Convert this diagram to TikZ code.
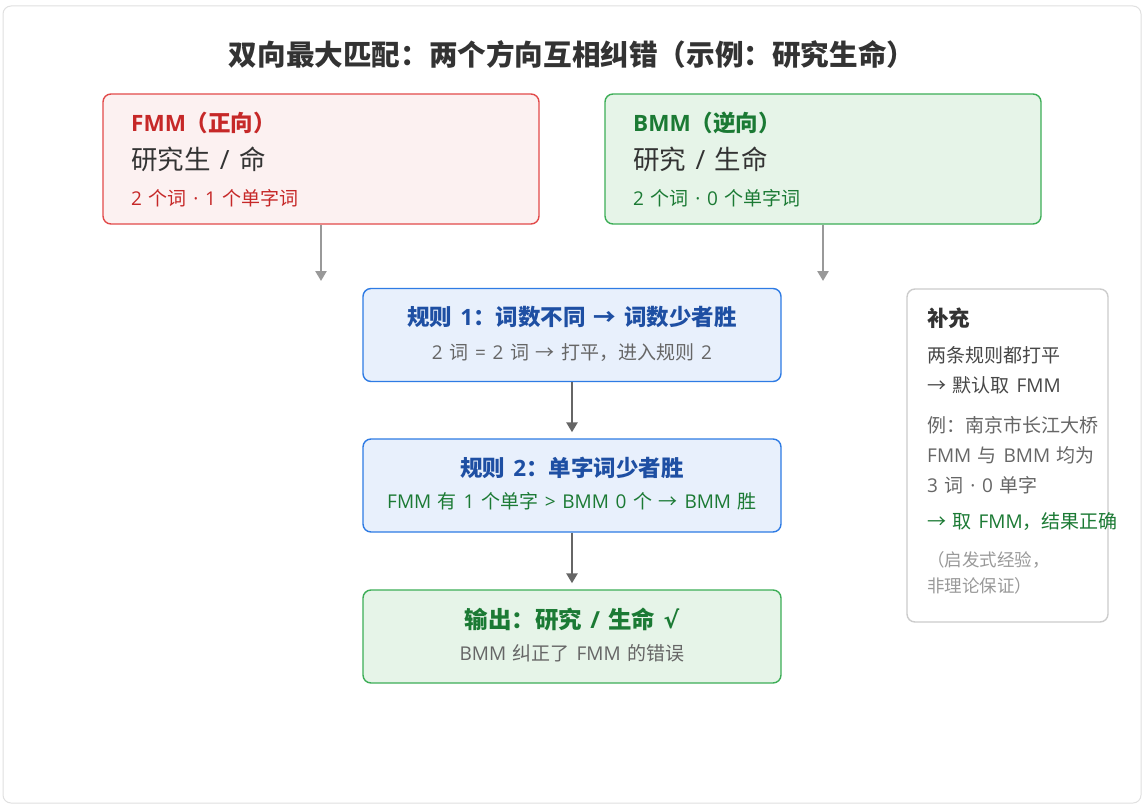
\documentclass[tikz,border=0pt]{standalone}
\usepackage{fontspec}
\setmainfont{Open Sans}[WordSpace=1.35]
\newfontfamily\cjkfont{Noto Sans CJK SC}
\newfontfamily\symfont{DejaVu Sans}
\usetikzlibrary{arrows.meta}

\XeTeXinterchartokenstate=1
\newXeTeXintercharclass\cjkclass
\newcount\cjkcode
\def\setcjkrange#1#2{\cjkcode=#1
  \loop\XeTeXcharclass\cjkcode=\cjkclass
  \ifnum\cjkcode<#2 \advance\cjkcode by 1 \repeat}
\setcjkrange{"2190}{"21FF}
\setcjkrange{"3000}{"303F}
\setcjkrange{"4E00}{"9FFF}
\setcjkrange{"FF00}{"FFEF}
\XeTeXinterchartoks 0 \cjkclass = {\begingroup\cjkfont}
\XeTeXinterchartoks 4095 \cjkclass = {\begingroup\cjkfont}
\XeTeXinterchartoks \cjkclass 0 = {\endgroup}
\XeTeXinterchartoks \cjkclass 4095 = {\endgroup}

\definecolor{fmmred}{HTML}{C62828}
\definecolor{fmmline}{HTML}{E24A4A}
\definecolor{fmmfill}{HTML}{FCF1F1}
\definecolor{bmmgreen}{HTML}{1B7A34}
\definecolor{bmmline}{HTML}{3DAE57}
\definecolor{bmmfill}{HTML}{E6F4E8}
\definecolor{ruleblue}{HTML}{1E4FA3}
\definecolor{ruleline}{HTML}{2E7BE4}
\definecolor{rulefill}{HTML}{E8F0FC}
\definecolor{txtdark}{HTML}{333333}
\definecolor{txtgray}{HTML}{666666}
\definecolor{txtlight}{HTML}{999999}

\begin{document}
\begin{tikzpicture}[x=1pt,y=-1pt,
  box/.style={draw,rounded corners=8pt,line width=1.4pt,inner sep=0pt},
  dirbox/.style={box,minimum width=436pt,minimum height=130pt},
  rulebox/.style={box,draw=ruleline,fill=rulefill,minimum width=418pt,minimum height=93pt},
  lbl/.style={inner sep=0pt,anchor=west},
  head/.style={inner sep=0pt,font=\fontsize{22.5}{27}\selectfont\bfseries},
  sub/.style={inner sep=0pt,font=\fontsize{19}{23}\selectfont},
  note/.style={lbl,font=\fontsize{19}{23}\selectfont,text=txtdark!90},
  grayarrow/.style={draw=txtlight,line width=2.5pt,-{Triangle[length=10pt,width=11pt]}},
  darkarrow/.style={draw=txtgray,line width=2.5pt,-{Triangle[length=10pt,width=11pt]},shorten >=6pt}]
  \useasboundingbox (0,0) rectangle (1145,808);
  \draw[draw=black!12,fill=white,rounded corners=8pt,line width=1pt] (3,6) rectangle (1141,803);

  \node[inner sep=0pt,font=\fontsize{28.6}{34}\selectfont\bfseries,text=txtdark] (title) at (572,54) {双向最大匹配：两个方向互相纠错（示例：研究生命）};

  \node[dirbox,draw=fmmline,fill=fmmfill] (fmm) at (321,159) {};
  \node[lbl,head,text=fmmred] (fmmhead) at (131,123) {FMM（正向）};
  \node[lbl,font=\fontsize{26.5}{30}\selectfont,text=txtdark] (fmmseg) at (131,159) {研究生 / 命};
  \node[lbl,sub,text=fmmred] (fmmcount) at (131,198) {2 个词 · 1 个单字词};

  \node[dirbox,draw=bmmline,fill=bmmfill] (bmm) at (823,159) {};
  \node[lbl,head,text=bmmgreen] (bmmhead) at (633,123) {BMM（逆向）};
  \node[lbl,font=\fontsize{26.5}{30}\selectfont,text=txtdark] (bmmseg) at (633,159) {研究 / 生命};
  \node[lbl,sub,text=bmmgreen] (bmmcount) at (633,198) {2 个词 · 0 个单字词};

  \coordinate (fmmend) at (321,281);
  \coordinate (bmmend) at (823,281);
  \draw[grayarrow] (fmm) -- (fmmend);
  \draw[grayarrow] (bmm.south) -- (bmmend);

  \node[rulebox] (rule1) at (572,335) {};
  \node[head,text=ruleblue] (rule1head) at (572,317) {规则 1：词数不同 → 词数少者胜};
  \node[sub,text=txtgray] (rule1text) at (572,353) {2 词 = 2 词 → 打平，进入规则 2};

  \node[rulebox] (rule2) at (572,485.5) {};
  \node[head,text=ruleblue] (rule2head) at (572,468) {规则 2：单字词少者胜};
  \node[sub,text=bmmgreen] (rule2text) at (572,501) {FMM 有 1 个单字 > BMM 0 个 → BMM 胜};

  \node[rulebox,draw=bmmline,fill=bmmfill] (out) at (572,636.5) {};
  \node[head,font=\fontsize{23.5}{28}\selectfont\bfseries,text=bmmgreen] (outhead) at (572,619) {输出：研究 / 生命 {\symfont √}};
  \node[sub,text=txtgray] (outtext) at (572,653) {BMM 纠正了 FMM 的错误};

  \draw[darkarrow] (rule1) -- (rule2);
  \draw[darkarrow] (rule2) -- (out);

  \node[box,draw=black!20,fill=white,minimum width=201pt,minimum height=333pt] (extra) at (1007.5,455.5) {};
  \node[lbl,font=\fontsize{21.5}{25}\selectfont\bfseries,text=txtdark] (extrahead) at (927,318) {补充};
  \node[note] (note1) at (927,355) {两条规则都打平};
  \node[note] (note2) at (927,385) {→ 默认取 FMM};
  \node[note,text=txtgray] (note3) at (927,425) {例：南京市长江大桥};
  \node[note,text=txtgray] (note4) at (927,455) {FMM 与 BMM 均为};
  \node[note,text=txtgray] (note5) at (927,485) {3 词 · 0 单字};
  \node[note,text=bmmgreen] (note6) at (927,522) {→ 取 FMM，结果正确};
  \node[note,font=\fontsize{17.5}{21}\selectfont,text=txtlight] (note7) at (927,560) {（启发式经验，};
  \node[note,font=\fontsize{17.5}{21}\selectfont,text=txtlight] (note8) at (927,586) {非理论保证）};
\end{tikzpicture}
\end{document}
